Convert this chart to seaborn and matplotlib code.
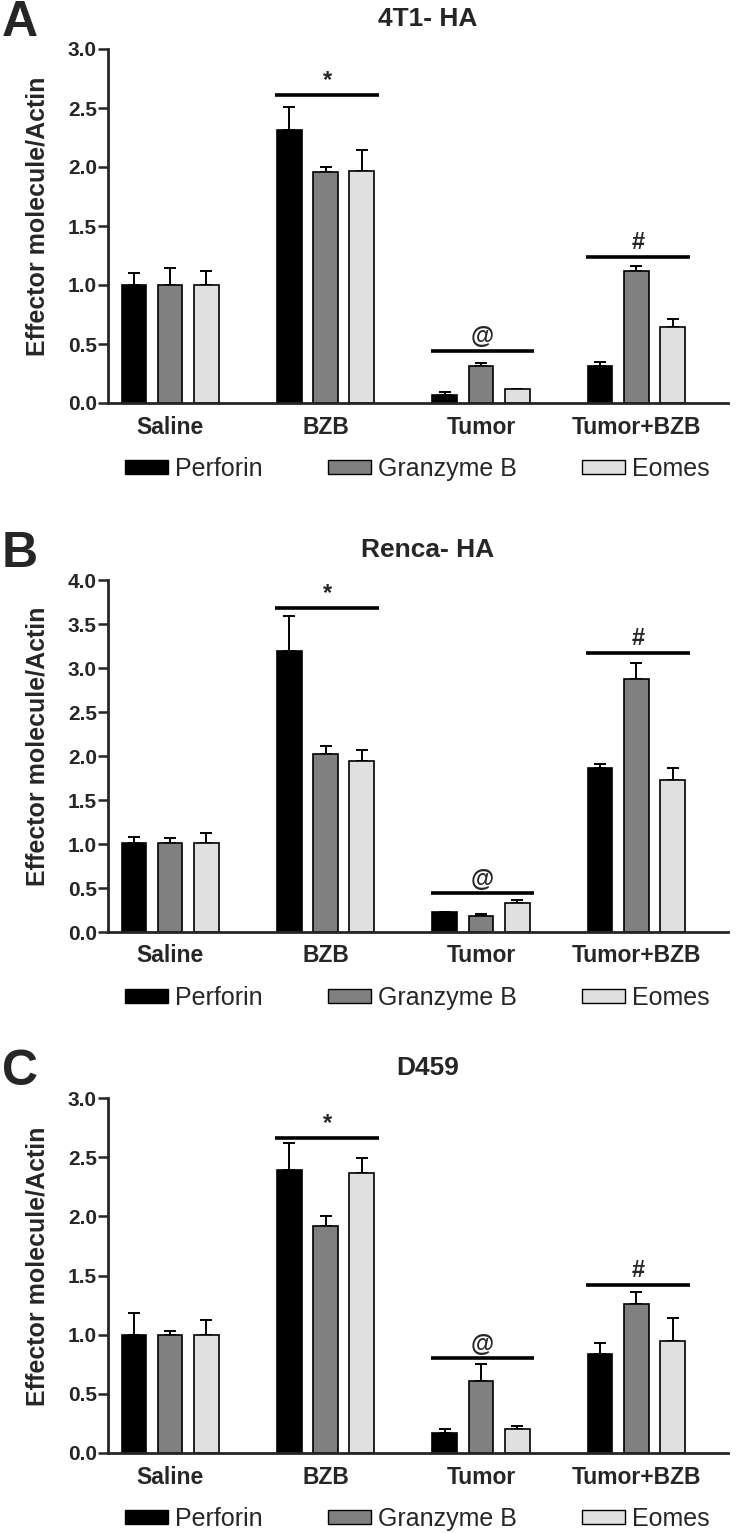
import matplotlib.pyplot as plt
import pandas as pd
import seaborn as sns
from matplotlib.patches import Patch

sns.set_style('ticks')
plt.rcParams['font.family'] = ['Liberation Sans']
narrow = ['Liberation Sans Narrow', 'Liberation Sans']

groups = ['Saline', 'BZB', 'Tumor', 'Tumor+BZB']
markers = ['Perforin', 'Granzyme B', 'Eomes']
colors = ['#000000', '#808080', '#e0e0e0']

panel_letters = ['A', 'B', 'C']
titles = ['4T1- HA', 'Renca- HA', 'D459']
ymax = [3.0, 4.0, 3.0]

# means, one list per marker, in group order
mean_a = {
    'Perforin': [1.00, 2.31, 0.07, 0.31],
    'Granzyme B': [1.00, 1.96, 0.31, 1.12],
    'Eomes': [1.00, 1.97, 0.12, 0.64],
}
err_a = {
    'Perforin': [0.10, 0.20, 0.02, 0.04],
    'Granzyme B': [0.14, 0.04, 0.03, 0.04],
    'Eomes': [0.12, 0.17, 0.00, 0.07],
}
mean_b = {
    'Perforin': [1.01, 3.19, 0.23, 1.86],
    'Granzyme B': [1.01, 2.02, 0.18, 2.88],
    'Eomes': [1.01, 1.94, 0.33, 1.73],
}
err_b = {
    'Perforin': [0.07, 0.40, 0.00, 0.05],
    'Granzyme B': [0.06, 0.09, 0.02, 0.18],
    'Eomes': [0.11, 0.13, 0.03, 0.13],
}
mean_c = {
    'Perforin': [1.00, 2.39, 0.17, 0.84],
    'Granzyme B': [1.00, 1.92, 0.61, 1.26],
    'Eomes': [1.00, 2.37, 0.20, 0.95],
}
err_c = {
    'Perforin': [0.18, 0.23, 0.03, 0.09],
    'Granzyme B': [0.035, 0.08, 0.14, 0.10],
    'Eomes': [0.12, 0.12, 0.03, 0.19],
}

# significance bars: (group index, line height, symbol)
sig_a = [(1, 2.61, '*'), (2, 0.44, '@'), (3, 1.24, '#')]
sig_b = [(1, 3.68, '*'), (2, 0.44, '@'), (3, 3.17, '#')]
sig_c = [(1, 2.66, '*'), (2, 0.80, '@'), (3, 1.42, '#')]

means = [mean_a, mean_b, mean_c]
errs = [err_a, err_b, err_c]
sigs = [sig_a, sig_b, sig_c]

W, H = 739, 1533
fig = plt.figure(figsize=(W / 100, H / 100), dpi=100)

# axes boxes in pixels: (left, top, right, bottom)
boxes = [(108, 49, 728, 403), (108, 580, 728, 932), (108, 1098, 728, 1453)]

for k in range(3):
    l, t, r, b = boxes[k]
    ax = fig.add_axes([l / W, 1 - b / H, (r - l) / W, (b - t) / H])

    rows = []
    for m in markers:
        for g, v in zip(groups, means[k][m]):
            rows.append({'group': g, 'marker': m, 'value': v})
    df = pd.DataFrame(rows)

    sns.barplot(data=df, x='group', y='value', hue='marker', order=groups,
                hue_order=markers, palette=colors, width=0.70, gap=0.32,
                errorbar=None, edgecolor='black', linewidth=1.2,
                legend=False, ax=ax, zorder=2)
    bar_sets = list(ax.containers)

    for i, m in enumerate(markers):
        bars = bar_sets[i]
        xs = [p.get_x() + p.get_width() / 2 for p in bars]
        ys = [p.get_height() for p in bars]
        up = errs[k][m]
        ax.errorbar(xs, ys, yerr=[[0] * len(up), up], fmt='none',
                    ecolor='black', elinewidth=1.4, capsize=4,
                    capthick=1.4, zorder=1)

    for gi, y, sym in sigs[k]:
        x0 = bar_sets[0][gi].get_x() - 0.01
        last = bar_sets[-1][gi]
        x1 = last.get_x() + last.get_width() + 0.03
        ax.plot([x0, x1], [y, y], color='black', lw=2.6, solid_capstyle='butt')
        ax.annotate(sym, ((x0 + x1) / 2, y), xytext=(0, 2),
                    textcoords='offset points', ha='center', va='bottom',
                    fontsize=17, fontweight='bold', family=narrow)

    ax.set_xlim(-0.40, 3.59)
    ax.set_ylim(0, ymax[k])
    ticks = [i * 0.5 for i in range(int(ymax[k] / 0.5) + 1)]
    ax.set_yticks(ticks)
    ax.set_yticklabels(['%.1f' % v for v in ticks])
    sns.despine(ax=ax)
    for s in ['left', 'bottom']:
        ax.spines[s].set_linewidth(2)
    ax.tick_params(axis='y', length=7, width=1.8, labelsize=15, pad=1)
    ax.tick_params(axis='x', length=0, labelsize=16.5, pad=9)
    for lab in ax.get_xticklabels() + ax.get_yticklabels():
        lab.set_fontweight('bold')
    ax.set_xlabel('')
    ax.set_ylabel('Effector molecule/Actin', fontsize=18, fontweight='bold')
    ax.yaxis.set_label_coords(-0.094, 0.527)

    ax.text(0.515, 1 + 30 / (b - t), titles[k], transform=ax.transAxes,
            ha='center', va='center', fontsize=19, fontweight='bold',
            family=narrow)
    ax.text(-88 / (r - l), 1 + 26 / (b - t), panel_letters[k],
            transform=ax.transAxes, ha='center', va='center',
            fontsize=36, fontweight='bold', family=narrow)

    handles = [Patch(facecolor=c, edgecolor='black', linewidth=1) for c in colors]
    ax.legend(handles, markers, loc='center left', ncol=3, frameon=False,
              bbox_to_anchor=(17 / (r - l), -66 / (b - t)), fontsize=18,
              handlelength=1.72, handleheight=0.52, handletextpad=0.28,
              columnspacing=2.6, borderpad=0, borderaxespad=0)

fig.savefig('out.png', dpi=100)
